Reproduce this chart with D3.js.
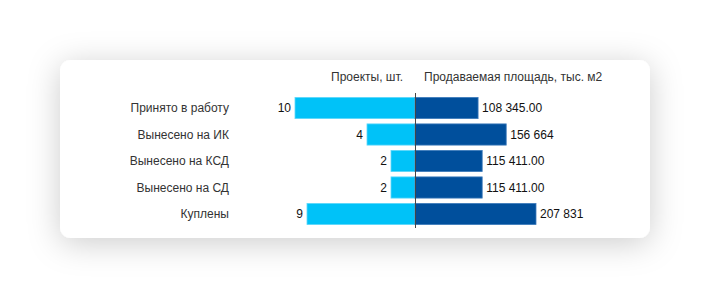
<!DOCTYPE html>
<html>
<head>
<meta charset="UTF-8">
<title>Проекты и продаваемая площадь</title>
<script src="https://cdn.jsdelivr.net/npm/d3@7"></script>
<style>
  html, body { margin: 0; padding: 0; background: #fff; }
  svg { display: block; font-family: "Liberation Sans", Arial, sans-serif; }
</style>
</head>
<body>
<svg id="chart" width="711" height="299"></svg>
<script>
// data
var categories = ["Принято в работу", "Вынесено на ИК", "Вынесено на КСД", "Вынесено на СД", "Куплены"];
var projects = [10, 4, 2, 2, 9];
var area = [108345, 156664, 115411, 115411, 207831];
var areaLabels = ["108 345.00", "156 664", "115 411.00", "115 411.00", "207 831"];
var headers = ["Проекты, шт.", "Продаваемая площадь, тыс. м2"];

var svg = d3.select("#chart");

// card shadow
var defs = svg.append("defs");
var f = defs.append("filter").attr("id", "shadow")
  .attr("x", "-20%").attr("y", "-50%").attr("width", "140%").attr("height", "200%");
f.append("feDropShadow").attr("dx", 0).attr("dy", 5)
  .attr("stdDeviation", 16).attr("flood-color", "#000").attr("flood-opacity", 0.2);

svg.append("rect")
  .attr("x", 60).attr("y", 60).attr("width", 590).attr("height", 178)
  .attr("rx", 11).attr("fill", "#fff")
  .attr("filter", "url(#shadow)");

var mid = 415;

var y = d3.scaleBand()
  .domain(categories)
  .range([94.75, 227.25])
  .paddingInner(0.2)
  .paddingOuter(0.1);

var xLeft = d3.scaleLinear().domain([0, d3.max(projects)]).range([mid, 295]);
var xRight = d3.scaleLinear().domain([0, d3.max(area)]).range([mid, 536]);

var rows = categories.map(function (c, i) {
  return { cat: c, p: projects[i], a: area[i], label: areaLabels[i] };
});

// headers
svg.append("text").text(headers[0])
  .attr("x", 403).attr("y", 81)
  .attr("text-anchor", "end")
  .attr("font-size", 12).attr("fill", "#333");
svg.append("text").text(headers[1])
  .attr("x", 424).attr("y", 81)
  .attr("font-size", 12).attr("fill", "#333");

// category labels
svg.selectAll(".cat").data(rows).enter().append("text")
  .attr("class", "cat")
  .attr("x", 229)
  .attr("y", function (d) { return y(d.cat) + y.bandwidth() / 2; })
  .attr("dy", "0.35em")
  .attr("text-anchor", "end")
  .attr("font-size", 12).attr("fill", "#333")
  .text(function (d) { return d.cat; });

// left bars
svg.selectAll(".bl").data(rows).enter().append("rect")
  .attr("class", "bl")
  .attr("x", function (d) { return xLeft(d.p); })
  .attr("y", function (d) { return y(d.cat); })
  .attr("width", function (d) { return mid - xLeft(d.p); })
  .attr("height", y.bandwidth())
  .attr("fill", "#00c2f8")
  .attr("stroke", "#5fd8fb").attr("stroke-width", 0.8);

// right bars
svg.selectAll(".br").data(rows).enter().append("rect")
  .attr("class", "br")
  .attr("x", mid)
  .attr("y", function (d) { return y(d.cat); })
  .attr("width", function (d) { return xRight(d.a) - mid; })
  .attr("height", y.bandwidth())
  .attr("fill", "#004f9c")
  .attr("stroke", "#3f7cbc").attr("stroke-width", 0.8);

// left values
svg.selectAll(".vl").data(rows).enter().append("text")
  .attr("class", "vl")
  .attr("x", function (d) { return xLeft(d.p) - 4; })
  .attr("y", function (d) { return y(d.cat) + y.bandwidth() / 2; })
  .attr("dy", "0.35em")
  .attr("text-anchor", "end")
  .attr("font-size", 12).attr("fill", "#111")
  .text(function (d) { return d.p; });

// right values
svg.selectAll(".vr").data(rows).enter().append("text")
  .attr("class", "vr")
  .attr("x", function (d) { return xRight(d.a) + 4; })
  .attr("y", function (d) { return y(d.cat) + y.bandwidth() / 2; })
  .attr("dy", "0.35em")
  .attr("font-size", 12).attr("fill", "#111")
  .text(function (d) { return d.label; });

// center axis line
svg.append("line")
  .attr("x1", mid + 0.5).attr("x2", mid + 0.5)
  .attr("y1", 93).attr("y2", 228)
  .attr("stroke", "#444").attr("stroke-width", 1);
</script>
</body>
</html>
